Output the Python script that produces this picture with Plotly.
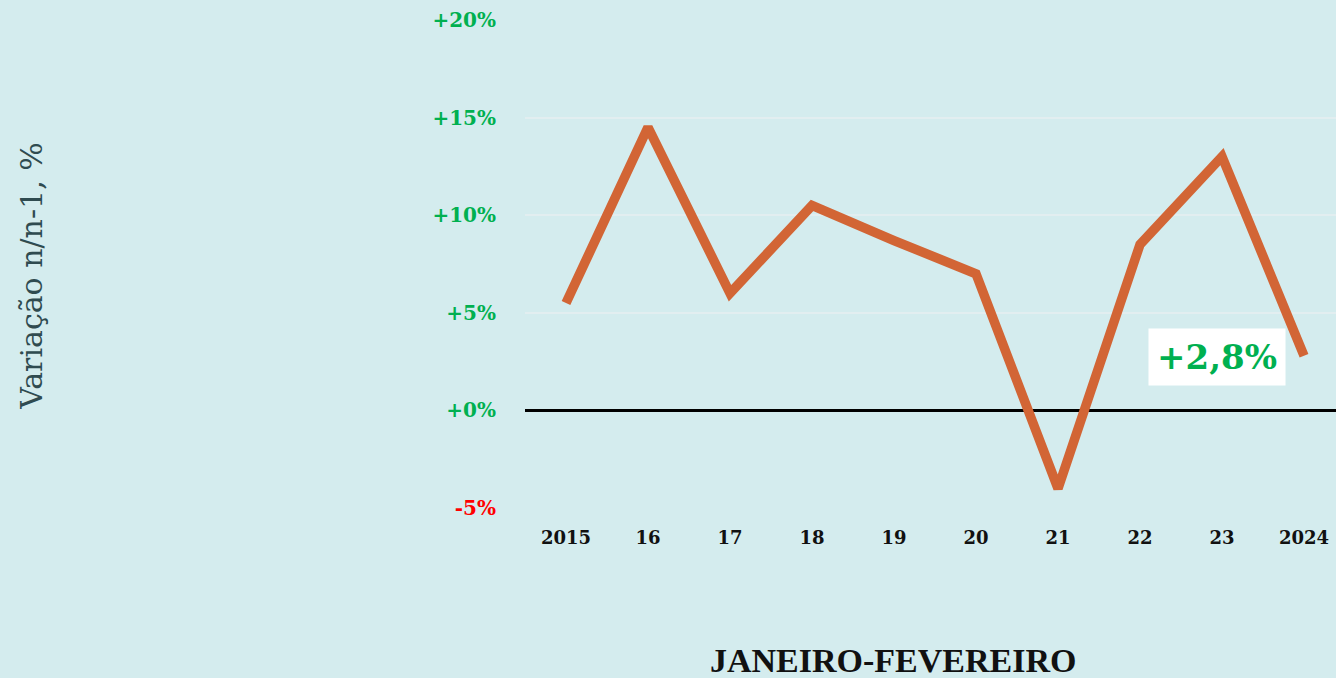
import plotly.graph_objects as go

# Janeiro-Fevereiro, variação n/n-1 (%)
years = ["2015", "16", "17", "18", "19", "20", "21", "22", "23", "2024"]
variation = [5.5, 14.5, 6.0, 10.5, 8.7, 7.0, -4.0, 8.5, 13.0, 2.8]
y_ticks = [-5, 0, 5, 10, 15, 20]

GREEN = "#00b050"
RED = "#ff0000"
ORANGE = "#d26535"
BG = "#d4ecee"

tick_text = []
for t in y_ticks:
    if t < 0:
        tick_text.append(f"<span style='color:{RED}'>{t}%</span>")
    else:
        tick_text.append(f"<span style='color:{GREEN}'>+{t}%</span>")

x_idx = list(range(len(years)))

fig = go.Figure()
fig.add_trace(go.Scatter(
    x=x_idx, y=variation, mode="lines",
    line=dict(color=ORANGE, width=9.5),
    hoverinfo="skip", showlegend=False,
))

last = variation[-1]
fig.add_annotation(
    x=x_idx[-1], y=last, xref="x", yref="y",
    text=f"<b>+{last:.1f}%</b>".replace(".", ","),
    showarrow=False, xshift=-87, yshift=-1, bgcolor="white",
    font=dict(family="DejaVu Serif", size=34, color=GREEN),
    borderpad=8,
)
# axis titles placed relative to the plot area (paper coords)
fig.add_annotation(
    x=-0.632, y=0.476, xref="paper", yref="paper",
    text="Variação n/n-1, %", textangle=-90, showarrow=False,
    font=dict(family="DejaVu Serif", size=30, color="#2f4b50"),
)
fig.add_annotation(
    x=0.454, y=-0.35, xref="paper", yref="paper",
    text="<b>JANEIRO-FEVEREIRO</b>", showarrow=False,
    font=dict(family="Liberation Serif", size=34, color="#111111"),
)

fig.update_xaxes(
    tickmode="array", tickvals=x_idx, ticktext=[f"<b>{y}</b>" for y in years],
    range=[-0.5, 9.39], showgrid=False, zeroline=False, showline=False,
    tickfont=dict(family="DejaVu Serif", size=18, color="#111111"),
    ticks="", ticklabelstandoff=16,
)
fig.update_yaxes(
    tickmode="array", tickvals=y_ticks, ticktext=[f"<b>{t}</b>" for t in tick_text],
    range=[-5.05, 20.05], showgrid=True, gridcolor="#e2eef0", gridwidth=2,
    zeroline=True, zerolinecolor="black", zerolinewidth=3,
    tickfont=dict(family="DejaVu Serif", size=20, color=GREEN),
    ticks="", ticklabelstandoff=28,
)
fig.update_layout(
    width=1336, height=678,
    margin=dict(l=525, r=0, t=19, b=169),
    paper_bgcolor=BG, plot_bgcolor=BG,
)
fig.write_html("out.html", config={"displayModeBar": False},
               post_script="document.body.style.margin='0';")
